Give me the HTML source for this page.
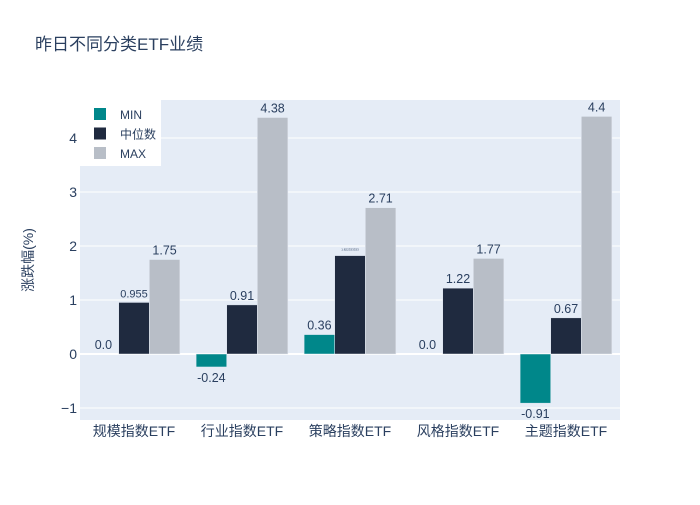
<!DOCTYPE html>
<html><head><meta charset="utf-8"><style>
body{margin:0;background:#fff;font-family:"Liberation Sans","Noto Sans CJK SC",sans-serif;}
svg text{font-family:"Liberation Sans","Noto Sans CJK SC",sans-serif;}
</style></head><body>
<svg id="c" width="700" height="500"></svg>
<script>
const categories=["规模指数ETF","行业指数ETF","策略指数ETF","风格指数ETF","主题指数ETF"];
const minVals=[0.0,-0.24,0.36,0.0,-0.91];
const medVals=[0.955,0.91,1.8223,1.22,0.67];
const maxVals=[1.75,4.38,2.71,1.77,4.4];
const minLabels=["0.0","-0.24","0.36","0.0","-0.91"];
const medLabels=["0.955","0.91","1.822333333","1.22","0.67"];
const maxLabels=["1.75","4.38","2.71","1.77","4.4"];
const yTicks=[-1,0,1,2,3,4];
const yTickLabels=["−1","0","1","2","3","4"];
const NS="http://www.w3.org/2000/svg";
const svg=document.getElementById('c');
const L=80,R=620,T=100,B=420,ymin=-1.222,ymax=4.704;
const y=v=>B-(v-ymin)/(ymax-ymin)*(B-T);
const bw=(R-L)/categories.length;
const x=i=>L+bw*(i+0.5);
function mk(t,a,txt){const e=document.createElementNS(NS,t);for(const k in a)e.setAttribute(k,a[k]);if(txt!==undefined)e.textContent=txt;svg.appendChild(e);return e;}
let e=mk('rect',{x:L,y:T,width:R-L,height:B-T,fill:'#e5ecf6'});


yTicks.forEach((t,i)=>{
 const g=mk('line',{x1:L,x2:R,y1:y(t),y2:y(t),stroke:'#fff','stroke-width':t===0?2:1});
 
 
 const l=mk('text',{x:L-3,y:y(t)+5,'text-anchor':'end','font-size':14,fill:'#2a3f5f'},yTickLabels[i]);
 
 
});
const series=[[minVals,minLabels,'#00878a','min'],[medVals,medLabels,'#1f2a3f','median'],[maxVals,maxLabels,'#b8bec7','max']];
const barW=bw*0.85/3;
categories.forEach((c,i)=>{
 series.forEach((s,j)=>{
  const v=s[0][i];const x0=x(i)-bw*0.425+j*barW;
  const top=Math.min(y(v),y(0)),h=Math.abs(y(v)-y(0));
  const r=mk('rect',{x:x0,y:top,width:barW,height:h,fill:s[2],stroke:'#e5ecf6','stroke-width':0.5});
  
  
  const lab=s[1][i];
  const dec=(lab.split('.')[1]||'').length;
  const fs=dec>3?3:(dec===3?11:12.5);
  const ty=v>=0?y(v)-5:y(v)+15;
  const t=mk('text',{x:x0+barW/2,y:ty,'text-anchor':'middle','font-size':fs,fill:'#2a3f5f'},lab);
  
  
 });
 const l=mk('text',{x:x(i),y:436,'text-anchor':'middle','font-size':14,fill:'#2a3f5f'},c);
 
 
});
e=mk('text',{x:35,y:50,'font-size':17,fill:'#2a3f5f'},'昨日不同分类ETF业绩');


e=mk('text',{x:33,y:260,'font-size':14,fill:'#2a3f5f','text-anchor':'middle',transform:'rotate(-90 33 260)'},'涨跌幅(%)');


e=mk('rect',{x:80,y:100,width:81,height:66,fill:'#fff'});


['MIN','中位数','MAX'].forEach((n,k)=>{
 const yy=114+k*19.5;
 const s=mk('rect',{x:94,y:yy-6,width:12,height:12,fill:series[k][2]});
 
 
 const t=mk('text',{x:120,y:yy+5,'font-size':12,fill:'#2a3f5f'},n);
 
 
});
</script>
</body></html>
